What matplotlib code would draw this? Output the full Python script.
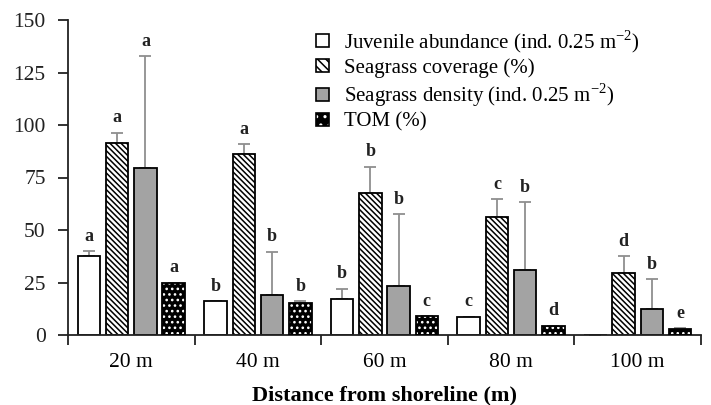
import matplotlib
matplotlib.use("Agg")
import matplotlib.pyplot as plt
import numpy as np
from matplotlib.patches import Patch
from matplotlib.legend_handler import HandlerTuple

plt.rcParams['font.family'] = ['Liberation Serif', 'DejaVu Serif']
plt.rcParams['hatch.linewidth'] = 1.1

categories = ["20 m", "40 m", "60 m", "80 m", "100 m"]
series_names = ["Juvenile abundance (ind. 0.25 m$^{\\mathregular{-2}}$)", "Seagrass coverage (%)",
                "Seagrass density (ind. 0.25 m$^{\\mathregular{-2}}$)", "TOM (%)"]
juvenile = [37.6, 16.2, 17.1, 8.7, 0.0]
juvenile_err = [2.4, 0.0, 4.9, 0.0, 0.0]
coverage = [91.3, 86.2, 67.4, 56.3, 29.7]
coverage_err = [5.0, 4.6, 12.8, 8.5, 7.8]
density = [79.4, 18.9, 23.5, 31.0, 12.5]
density_err = [53.5, 20.8, 34.1, 32.3, 14.0]
tom = [24.6, 15.4, 9.0, 4.4, 2.8]
tom_err = [0.4, 0.6, 0.0, 0.0, 0.3]
juvenile_letters = ["a", "b", "b", "c", ""]
coverage_letters = ["a", "a", "b", "c", "d"]
density_letters = ["a", "b", "b", "b", "b"]
tom_letters = ["a", "b", "c", "d", "e"]

fig = plt.figure(figsize=(7.11, 4.05), dpi=100)
ax = fig.add_axes([68/711, 70/405, 633/711, 315/405])

x = np.arange(len(categories)) + 0.5
spacing = 0.223
width = 0.178
offsets = [-1.5*spacing, -0.5*spacing, 0.5*spacing, 1.5*spacing]
errc = '#8f8f8f'
dens_col = '#a3a3a3'
hatch_cov = '\\\\\\\\\\\\'

series = [
    (juvenile, juvenile_err, juvenile_letters, dict(facecolor='white', hatch=None)),
    (coverage, coverage_err, coverage_letters, dict(facecolor='white', hatch=hatch_cov)),
    (density, density_err, density_letters, dict(facecolor=dens_col, hatch=None)),
    (tom, tom_err, tom_letters, None),
]

for i, (vals, errs, letters, style) in enumerate(series):
    pos = x + offsets[i]
    if style is None:
        ax.bar(pos, vals, width, facecolor='black', edgecolor='white', hatch='...', linewidth=0, zorder=2)
        ax.bar(pos, vals, width, facecolor='none', edgecolor='black', linewidth=1.3, zorder=3)
    else:
        ax.bar(pos, vals, width, facecolor=style['facecolor'], edgecolor='black',
               hatch=style['hatch'], linewidth=1.3, zorder=2)
    ax.errorbar(pos, vals, yerr=[np.zeros(len(vals)), errs], fmt='none', ecolor=errc,
                elinewidth=1.3, capsize=4, capthick=1.3, zorder=1)
    for p, v, e, l in zip(pos, vals, errs, letters):
        if l:
            ax.text(p, v + e + 3.0, l, ha='center', va='bottom', fontsize=13,
                    fontweight='bold', color='#222222')

ax.set_xlim(0, 5)
ax.set_ylim(0, 150)
ax.set_yticks([0, 25, 50, 75, 100, 125, 150])
ax.tick_params(axis='y', labelsize=15.5, length=7, width=1.3, direction='out', pad=9,
               colors='#222222')
ax.set_xticks(np.arange(0, 6))
ax.set_xticklabels([])
ax.set_xticks(x, minor=True)
ax.set_xticklabels(categories, minor=True)
ax.tick_params(axis='x', which='major', length=7, width=1.3, direction='out', colors='#222222')
ax.tick_params(axis='x', which='minor', length=0, labelsize=15.5, pad=13)
for s in ['top', 'right']:
    ax.spines[s].set_visible(False)
for s in ['left', 'bottom']:
    ax.spines[s].set_linewidth(1.3)
    ax.spines[s].set_color('#222222')
ax.set_xlabel("Distance from shoreline (m)", fontsize=16, fontweight='bold', labelpad=10)

h1 = Patch(facecolor='white', edgecolor='black', linewidth=1.2)
h2 = Patch(facecolor='white', edgecolor='black', hatch='\\\\\\\\', linewidth=1.2)
h3 = Patch(facecolor=dens_col, edgecolor='black', linewidth=1.2)
h4a = Patch(facecolor='black', edgecolor='white', hatch='..', linewidth=0)
h4b = Patch(facecolor='none', edgecolor='black', linewidth=1.2)
leg = ax.legend([h1, h2, h3, (h4a, h4b)], series_names,
                handler_map={tuple: HandlerTuple(ndivide=1, pad=0)},
                loc='upper left', bbox_to_anchor=(0.392, 0.975), frameon=False,
                fontsize=15, handlelength=0.6, handleheight=0.6, handletextpad=0.75,
                labelspacing=0.17, borderaxespad=0, borderpad=0)

fig.savefig("out.png", dpi=100)
